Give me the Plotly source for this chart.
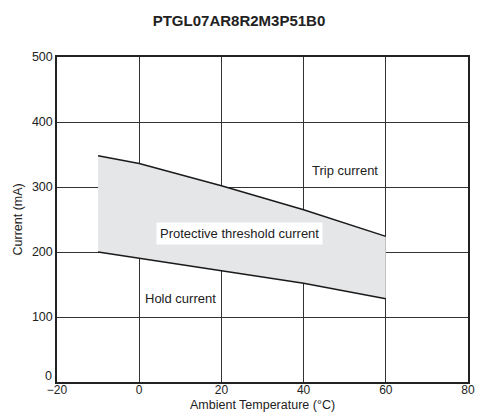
import plotly.graph_objects as go

temps = [-10, 0, 20, 40, 60]
trip_current = [348, 336, 302, 265, 224]
hold_current = [200, 190, 171, 152, 128]
x_ticks = [-20, 0, 20, 40, 60, 80]
y_ticks = [0, 100, 200, 300, 400, 500]

fig = go.Figure()
fig.add_trace(go.Scatter(x=temps, y=hold_current, mode="lines",
                         line=dict(color="#1a1a1a", width=1.5), showlegend=False, hoverinfo="skip"))
fig.add_trace(go.Scatter(x=temps, y=trip_current, mode="lines", fill="tonexty",
                         fillcolor="#e5e6e8",
                         line=dict(color="#1a1a1a", width=1.5), showlegend=False, hoverinfo="skip"))

fig.add_annotation(x=50, y=325, text="Trip current", showarrow=False,
                   font=dict(size=13, color="#222"))
fig.add_annotation(x=24.5, y=228, text="Protective threshold current", showarrow=False,
                   bgcolor="white", borderpad=3, font=dict(size=13, color="#222"))
fig.add_annotation(x=10, y=128, text="Hold current", showarrow=False,
                   font=dict(size=13, color="#222"))

# axis titles as annotations for exact placement
fig.add_annotation(xref="paper", yref="paper", x=0.5, y=-0.072, yanchor="middle",
                   text="Ambient Temperature (°C)", showarrow=False, font=dict(size=12.5, color="#222"))
fig.add_annotation(xref="paper", yref="paper", x=-0.095, y=0.5, xanchor="center",
                   text="Current (mA)", textangle=-90, showarrow=False, font=dict(size=12.5, color="#222"))

# the lowest y tick label sits slightly raised (as in the reference)
y_ticktext = [str(v) if v != y_ticks[0] else "" for v in y_ticks]
fig.add_annotation(xref="paper", yref="y", x=0, y=y_ticks[0], xanchor="right", yanchor="bottom",
                   xshift=-3, yshift=-3, text=str(y_ticks[0]), showarrow=False,
                   font=dict(size=12.5, color="#222"))

fig.update_layout(
    width=478, height=412,
    margin=dict(l=57, r=10, t=57, b=30, autoexpand=False),
    paper_bgcolor="white", plot_bgcolor="white",
    font=dict(family="Liberation Sans, Arial, sans-serif", size=13, color="#222"),
    title=dict(text="<b>PTGL07AR8R2M3P51B0</b>", x=0.5, xanchor="center", y=0.95, yanchor="middle",
               font=dict(size=15, color="#222", family="Liberation Sans, Arial, sans-serif")),
    xaxis=dict(range=[-20, 80], tickvals=x_ticks, showgrid=True, gridcolor="#333", gridwidth=1,
               showline=True, linecolor="#222", linewidth=1.5, mirror=True, zeroline=False,
               ticks="", ticklen=0, automargin=False, tickfont=dict(size=12),
               ticklabelstandoff=-4),
    yaxis=dict(range=[0, 500], tickvals=y_ticks, ticktext=y_ticktext, showgrid=True,
               gridcolor="#333", gridwidth=1,
               showline=True, linecolor="#222", linewidth=1.5, mirror=True, zeroline=False,
               ticks="", ticklen=0, automargin=False, tickfont=dict(size=12.5)),
)

fig.write_html("out.html", post_script="document.body.style.margin='0';",
               config={"displayModeBar": False})
